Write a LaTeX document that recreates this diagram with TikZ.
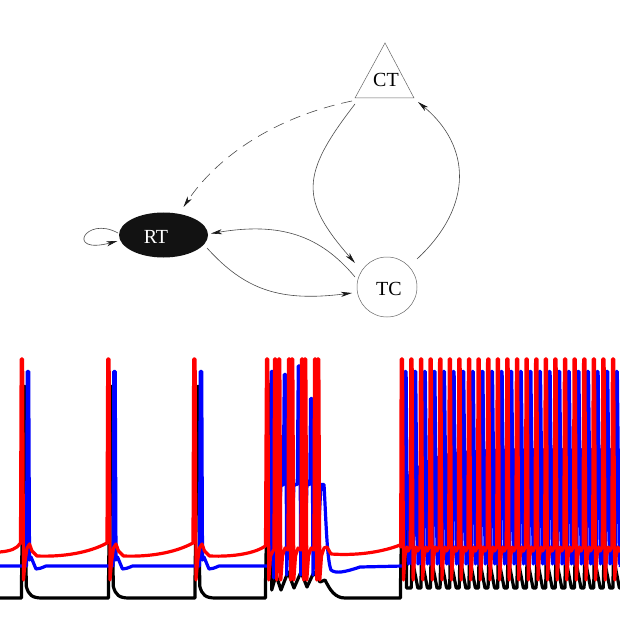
\documentclass[tikz,border=0pt]{standalone}
\usepackage{fontspec}
\setmainfont{Liberation Serif}
\usetikzlibrary{shapes.geometric,arrows.meta,calc}
\tikzset{
  edge/.style={draw=black!70, line width=0.6pt, -{Stealth[length=11pt,width=5pt,inset=3pt,color=black!90]}},
  outline/.style={draw=black!60, line width=0.5pt},
  lbl/.style={font=\fontsize{20}{22}\selectfont, inner sep=0pt},
  trace/.style={line width=3.2pt, line join=round, line cap=round},
}
\begin{document}
\begin{tikzpicture}[x=1pt,y=-1pt]
\useasboundingbox (0,0) rectangle (620,620);
\clip (0,0) rectangle (620,620);
\fill[white] (0,0) rectangle (620,620);

% ---------- graph ----------
\draw[outline] (385,43) -- (414,98) -- (355,98) -- cycle;
\coordinate (CTbl) at (355,98);
\coordinate (CTbr) at (414,98);
\node[lbl] (CT) at (386,79.7) {CT};

\node[ellipse, fill=black!93, minimum width=89pt, minimum height=45pt, inner sep=0pt] (RT) at (163.5,235) {};
\node[lbl, text=white] (RTlabel) at (156,236.5) {RT};

\node[circle, outline, minimum size=60pt, inner sep=0pt] (TC) at (387,287) {};
\node[lbl] (TClabel) at (389,289) {TC};

\draw[edge, dash pattern=on 11pt off 7pt] ([shift={(-3,3)}]CTbl) .. controls (270,118) and (215,160) .. ($(RT)+(20,-28)$);
\draw[edge] ([shift={(0,6)}]CTbl) .. controls (300,175) and (300,200) .. ($(TC)+(-32,-24)$);
\draw[edge] ($(TC)+(30,-28)$) .. controls (475,205) and (470,145) .. ([shift={(4,4)}]CTbr);
\draw[edge] ($(TC)+(-32,-10)$) .. controls (320,235) and (280,222) .. ($(RT)+(47.5,-1.5)$);
\draw[edge] ($(RT)+(43.5,13)$) .. controls (245,290) and (280,302) .. ($(TC)+(-35,6)$);
\draw[edge] ($(RT)+(-45.5,-2)$) .. controls (85,215) and (65,255) .. ($(RT)+(-46,6)$);

% ---------- traces ----------
% black
\draw[trace, black] (0,598)
  \foreach \s in {24,111,197.5} { -- (\s-2.5,598) -- (\s-2.5,583) -- (\s,386.5) -- (\s+1.2,386.5) -- (\s+2.2,586) .. controls (\s+4.5,595) and (\s+8,598) .. (\s+18,598) }
  -- (265.5,598) -- (265.5,583) -- (269.5,384.5) -- (270.7,384.5) -- (271.7,590)
  -- (276,575) -- (281,590) -- (288,572) -- (294,588) -- (301,572) -- (307,587) -- (314,572) -- (320,582) -- (325,580)
  .. controls (330,590) and (335,598) .. (345,598) -- (400.5,598) -- (400.5,583) -- (404.5,388) -- (405.7,388) -- (406.5,588) -- (411,588)
  \foreach \k [evaluate=\k as \bx using 402.2+9.6*\k] in {1,...,22} { -- (\bx-0.5,588) -- (\bx,557) -- (\bx+6,588) }
  -- (620,588);

% blue
\draw[trace, blue] (0,566)
  \foreach \s in {28,114.5,201} { -- (\s-1.5,566) -- (\s-0.7,371.5) -- (\s+0.7,371.5) -- (\s+1.5,560) -- (\s+3,557) -- (\s+8,569) .. controls (\s+12,568.5) .. (\s+18,566) }
  -- (270,566) -- (271.3,371.5) -- (272.7,371.5) -- (273.7,578) -- (277,560) -- (281,485) -- (283.3,485)
  -- (284.3,374.5) -- (285.7,374.5) -- (286.7,575) -- (288.5,500) -- (290.5,560) -- (294,484.5) -- (297.3,484.5)
  -- (298.3,366) -- (299.7,366) -- (300.7,575) -- (302.5,500) -- (304.5,560) -- (307,484.5) -- (309.8,484.5)
  -- (310.6,398.5) -- (312,398.5) -- (313,575) -- (315,500) -- (317,560) -- (321,484.5) -- (324,484.5)
  .. controls (326,520) and (327,560) .. (331,570) .. controls (336,574) and (345,572) .. (360,567) -- (403,566)
  \foreach \k [evaluate=\k as \tb using 404.9+9.6*\k, evaluate=\k as \mb using 446+26*exp(-\k/2.5)] in {0,...,22}
    { -- (\tb-0.7,566) -- (\tb,371.5) -- (\tb+1.2,371.5) -- (\tb+2,\mb) -- (\tb+3.5,564) -- (\tb+5,\mb+3) -- (\tb+6.5,564) -- (\tb+8,\mb+3) -- (\tb+8.9,564) }
  -- (620,566);

% red
\draw[trace, red] (0,552) .. controls (10,551) and (17,549) .. (20.5,543)
  \foreach \s/\nx in {22/108.5, 108.5/194.5} { -- (\s-0.8,359) -- (\s+0.6,359) -- (\s+1.5,580) -- (\s+3,562) -- (\s+5,548) -- (\s+7.5,544) -- (\s+10,551) -- (\s+15,556) .. controls (\s+40,557) and (\nx-20,553) .. (\nx-1.5,543) }
  -- (193.7,359) -- (195.1,359) -- (196,580) -- (197.5,562) -- (199.5,548) -- (202,544) -- (204.5,551) -- (209.5,556)
  .. controls (235,557) and (255,553) .. (265.5,546)
  -- (266.5,359) -- (267.8,359) -- (268.8,580) -- (270.5,556) -- (273.5,550)
  \foreach \a/\b in {275/279, 289/292, 302/305, 315/318} { -- (\a-1,550) -- (\a-0.5,359) -- (\a+0.8,359) -- (\a+1.8,580) -- (\b-1.2,560) -- (\b-0.5,359) -- (\b+0.8,359) -- (\b+1.8,580) -- (\b+3.5,556) -- (\b+6,548) }
  -- (327,547) -- (331,554) .. controls (360,556) and (385,551) .. (400,545)
  \foreach \k [evaluate=\k as \s using 401.7+9.6*\k] in {0,...,22}
    { -- (\s-1,547) -- (\s-0.5,359) -- (\s+0.8,359) -- (\s+1.8,580) -- (\s+3.3,556) -- (\s+5,547) -- (\s+6.5,551) -- (\s+8,548) }
  -- (620,549);
\end{tikzpicture}
\end{document}
